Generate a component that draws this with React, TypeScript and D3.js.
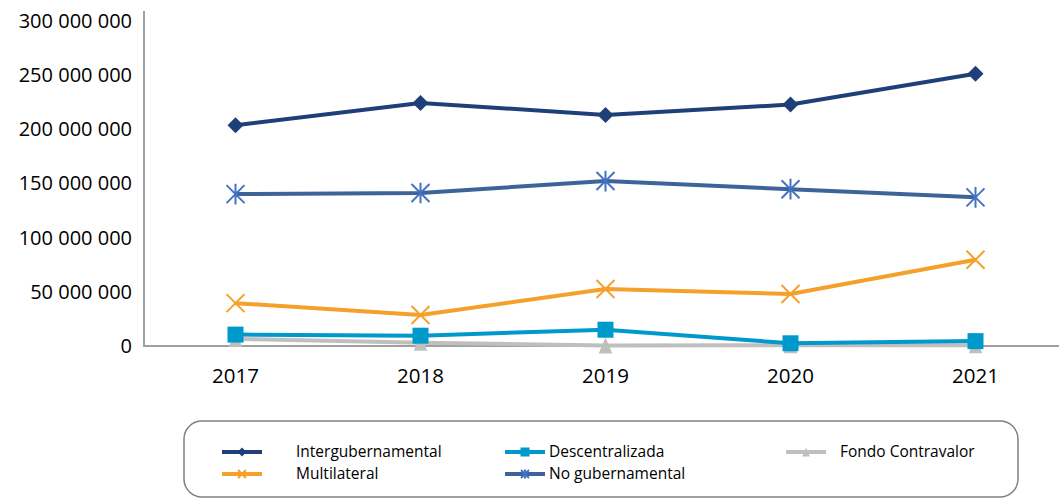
import React from "react";
import * as d3 from "d3";

const years = ["2017", "2018", "2019", "2020", "2021"];
const intergubernamental = [203500000, 224000000, 213000000, 222500000, 251000000];
const noGubernamental = [140000000, 141000000, 152000000, 144500000, 137000000];
const multilateral = [39500000, 28500000, 52500000, 48000000, 79500000];
const descentralizada = [10500000, 9500000, 15000000, 2500000, 4500000];
const fondoContravalor = [6500000, 3000000, 500000, 800000, 800000];
const yTicks = [0, 50000000, 100000000, 150000000, 200000000, 250000000, 300000000];

type Marker = "diamond" | "square" | "triangle" | "x" | "star";
interface Series { name: string; values: number[]; line: string; fill: string; marker: Marker; }

const series: Series[] = [
  { name: "Fondo Contravalor", values: fondoContravalor, line: "#bfbfbf", fill: "#bfbfbf", marker: "triangle" },
  { name: "Descentralizada", values: descentralizada, line: "#0099cc", fill: "#0099cc", marker: "square" },
  { name: "Multilateral", values: multilateral, line: "#f5a02a", fill: "#f5a02a", marker: "x" },
  { name: "No gubernamental", values: noGubernamental, line: "#3d6398", fill: "#4472c4", marker: "star" },
  { name: "Intergubernamental", values: intergubernamental, line: "#1f3f78", fill: "#1f3f78", marker: "diamond" },
];

const fmt = (v: number) => d3.format(",")(v).replace(/,/g, " ");

function MarkerShape({ m, x, y, s, color }: { m: Marker; x: number; y: number; s: number; color: string }) {
  const h = s / 2;
  switch (m) {
    case "diamond":
      return <path d={`M${x},${y - h}L${x + h},${y}L${x},${y + h}L${x - h},${y}Z`} fill={color} />;
    case "square":
      return <rect x={x - h} y={y - h} width={s} height={s} fill={color} />;
    case "triangle":
      return <path d={`M${x},${y - h}L${x + h * 0.85},${y + h}L${x - h * 0.85},${y + h}Z`} fill={color} />;
    case "x":
      return (
        <path d={`M${x - h},${y - h}L${x + h},${y + h}M${x + h},${y - h}L${x - h},${y + h}`} stroke={color} strokeWidth={2} fill="none" />
      );
    case "star":
      return (
        <path
          d={`M${x - h},${y - h}L${x + h},${y + h}M${x + h},${y - h}L${x - h},${y + h}M${x},${y - h * 1.15}L${x},${y + h * 1.15}`}
          stroke={color}
          strokeWidth={2}
          fill="none"
        />
      );
  }
}

export default function App() {
  const W = 1059, H = 500;
  const left = 143, right = 1068, top = 20.5, bottom = 346;
  const x = d3.scaleBand<string>().domain(years).range([left, right]);
  const cx = (d: string) => (x(d) ?? 0) + x.bandwidth() / 2;
  const y = d3.scaleLinear().domain([0, 300000000]).range([bottom, top]);
  const line = d3.line<number>().x((_, i) => cx(years[i])).y((v) => y(v));
  const font = "'Open Sans', 'Noto Sans', sans-serif";

  const legendItems = [
    { s: series[4], lx: 222, tx: 296, ly: 452 },
    { s: series[1], lx: 505, tx: 549, ly: 452 },
    { s: series[0], lx: 786, tx: 840, ly: 452 },
    { s: series[2], lx: 222, tx: 296, ly: 474 },
    { s: series[3], lx: 505, tx: 549, ly: 474 },
  ];

  const markerSize = (m: Marker) => (m === "x" || m === "star" ? 18 : m === "diamond" ? 16 : 16);

  return (
    <svg width={W} height={H} style={{ position: "absolute", left: 0, top: 0, background: "#fff" }}>
      {yTicks.map((t) => (
        <text key={t} x={132} y={y(t)} dy="0.35em" textAnchor="end" fontFamily={font} fontSize={20} fill="#000">
          {fmt(t)}
        </text>
      ))}
      {years.map((yr) => (
        <text key={yr} x={cx(yr)} y={383} textAnchor="middle" fontFamily={font} fontSize={20.5} fill="#000">
          {yr}
        </text>
      ))}
      <line x1={left + 1} x2={left + 1} y1={11} y2={bottom} stroke="#a0a0a0" strokeWidth={2} />
      <line x1={left} x2={W} y1={bottom} y2={bottom} stroke="#a0a0a0" strokeWidth={2} />
      {series.map((s) => (
        <g key={s.name}>
          <path d={line(s.values) ?? ""} fill="none" stroke={s.line} strokeWidth={4} strokeLinejoin="round" />
          {s.values.map((v, i) => (
            <MarkerShape key={i} m={s.marker} x={cx(years[i])} y={y(v)} s={markerSize(s.marker)} color={s.fill} />
          ))}
        </g>
      ))}
      <rect x={184} y={421} width={834} height={76} rx={18} ry={18} fill="#fff" stroke="#808080" strokeWidth={1.5} />
      {legendItems.map(({ s, lx, tx, ly }) => (
        <g key={s.name}>
          <line x1={lx} x2={lx + 40} y1={ly} y2={ly} stroke={s.line} strokeWidth={4} />
          <MarkerShape m={s.marker} x={lx + 20} y={ly} s={s.marker === "x" || s.marker === "star" ? 8 : 9} color={s.fill} />
          <text x={tx} y={ly} dy="0.35em" fontFamily={font} fontSize={15.5} fill="#000">
            {s.name}
          </text>
        </g>
      ))}
    </svg>
  );
}
